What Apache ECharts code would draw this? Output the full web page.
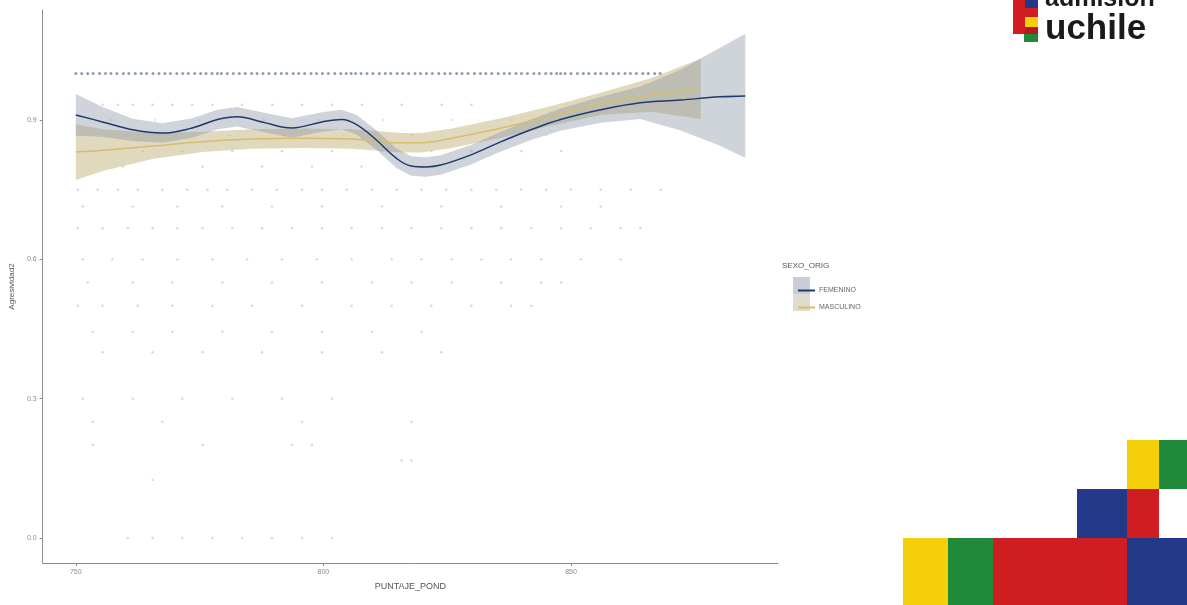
<!DOCTYPE html>
<html><head><meta charset="utf-8">
<script src="https://cdn.jsdelivr.net/npm/echarts@6/dist/echarts.min.js"></script>
<style>html,body{margin:0;padding:0;background:#fff}#c{width:1187px;height:605px}</style>
</head><body><div id="c"></div>
<script>
// ---------- data ----------
const xTicks = [750, 800, 850];
const yTicks = [0.0, 0.3, 0.6, 0.9];

// smoothed curves
const femX  = [750,755.4,761.5,767.5,773.5,778.6,782.6,787.6,793.6,799.7,803.7,806.7,810.7,814.7,817.7,820.7,823.7,829.8,835.8,841.9,847.9,856.0,864.0,872.0,880.0,885.2];
const femY  = [0.911,0.896,0.879,0.872,0.883,0.901,0.907,0.896,0.883,0.896,0.901,0.890,0.857,0.818,0.801,0.799,0.803,0.825,0.853,0.879,0.901,0.922,0.937,0.943,0.950,0.952];
const femLo = [0.866,0.864,0.855,0.851,0.862,0.880,0.886,0.875,0.862,0.875,0.880,0.869,0.836,0.797,0.780,0.778,0.782,0.804,0.832,0.857,0.877,0.894,0.902,0.878,0.845,0.818];
const femHi = [0.956,0.928,0.903,0.893,0.904,0.922,0.928,0.917,0.904,0.917,0.922,0.911,0.878,0.839,0.822,0.820,0.824,0.846,0.874,0.901,0.925,0.950,0.972,1.008,1.055,1.086];

const mascX  = [750,755.4,765.5,775.6,785.6,795.7,805.7,815.8,819.8,825.9,835.9,846.0,856.0,866.1,876.2];
const mascY  = [0.831,0.835,0.844,0.853,0.859,0.861,0.859,0.851,0.851,0.861,0.883,0.909,0.935,0.954,0.967];
const mascLo = [0.771,0.790,0.816,0.831,0.838,0.840,0.838,0.830,0.830,0.840,0.862,0.888,0.911,0.918,0.902];
const mascHi = [0.891,0.880,0.872,0.875,0.880,0.882,0.880,0.872,0.872,0.882,0.904,0.930,0.959,0.990,1.032];

// raw points: one row per observed y-level
const topRowY = 1.0;
const topRowX = [750,751.2,752.4,753.5,754.8,756,757.1,758.3,759.6,760.7,762,763.2,764.3,765.6,766.8,768,769.1,770.4,771.6,772.7,774,775.2,776.3,777.5,778.6,779.4,780.6,781.8,783,784.2,785.5,786.6,787.8,789,790.3,791.5,792.6,793.9,795,796.2,797.5,798.6,799.8,801,802.3,803.5,804.6,805.6,806.5,807.6,808.8,810,811.3,812.5,813.6,814.9,816,817.2,818.5,819.6,820.8,822,823.3,824.5,825.6,826.9,828,829.2,830.5,831.7,832.8,834,835.3,836.5,837.6,838.9,840,841.2,842.5,843.6,844.9,846,847.1,847.9,848.8,850,851.3,852.5,853.6,854.9,856,857.2,858.5,859.6,860.9,862,863.2,864.5,865.6,866.9,868];
const rowLevels = [0.933,0.833,0.8,0.75,0.714,0.667,0.6,0.55,0.5,0.444,0.4,0.3,0.25,0.2,0.167,0.125,0.0];
const rowXs = [
  [755.4,758.5,761.5,765.5,769.5,773.5,777.6,783.6,789.7,795.7,801.7,807.8,815.8,823.9,829.9],
  [753.4,763.5,771.5,781.6,791.6,801.7,811.8,821.8,829.9,840,848],
  [759.5,775.6,787.6,797.7,807.7],
  [750.4,754.4,758.5,762.5,767.5,772.5,776.6,780.6,785.6,790.6,795.7,799.7,804.7,809.8,814.8,819.8,824.8,829.9,834.9,839.9,845,850,856,862.1,868.1],
  [751.4,761.5,770.5,779.6,789.6,799.7,811.8,823.8,835.9,848,856],
  [750.4,755.4,760.5,765.5,770.5,775.6,781.6,787.6,793.7,799.7,805.7,811.8,817.8,823.8,829.9,835.9,842,848,854,860,864],
  [751.4,757.4,763.5,770.5,777.6,784.6,791.6,798.7,805.7,813.8,819.8,825.9,831.9,837.9,844,852,860],
  [752.4,761.5,769.5,779.6,789.6,799.7,809.8,817.8,825.9,835.9,844,848],
  [750.4,755.4,762.5,769.5,777.6,785.6,795.7,805.7,813.8,821.8,829.9,837.9,842],
  [753.4,761.5,769.5,779.6,789.6,799.7,809.8,819.8],
  [755.4,765.5,775.6,787.6,799.7,811.8,823.8],
  [751.4,761.5,771.5,781.6,791.6,801.7],
  [753.4,767.5,795.7,817.8],
  [753.4,775.6,793.7,797.7],
  [815.8,817.8],
  [765.5],
  [760.5,765.5,771.5,777.6,783.6,789.6,795.7,801.7]
];
const mascPointLevels = [0.9, 0.867];
const mascPointXs = [
  [757,766,775,788,799,812,826,838],
  [752,760,770,781,792,804,818,830,845]
];

// ---------- build ----------
const pairs = (xs, ys) => xs.map((x, i) => [x, ys[i]]);
const topRow = topRowX.map(x => [x, topRowY]);
const rowPts = [];
rowLevels.forEach((lv, r) => rowXs[r].forEach(x => rowPts.push([x, lv])));
const mascPts = [];
mascPointLevels.forEach((lv, r) => mascPointXs[r].forEach(x => mascPts.push([x, lv])));

function ribbon(name, xs, lo, hi, fill, op) {
  return {
    type: 'custom', name: name, silent: true, z: 3,
    data: [0],
    renderItem: function (params, api) {
      const pts = [];
      for (let i = 0; i < xs.length; i++) pts.push(api.coord([xs[i], hi[i]]));
      for (let i = xs.length - 1; i >= 0; i--) pts.push(api.coord([xs[i], lo[i]]));
      return { type: 'polygon', shape: { points: pts }, style: { fill: fill, opacity: op } };
    }
  };
}

const FEM_C = '#1f3a6b', MASC_C = '#d6bd6e';
const tickFont = { color: '#8a8a8a', fontSize: 7, fontFamily: 'Liberation Sans' };

const chart = echarts.init(document.getElementById('c'), null, { renderer: 'canvas' });
chart.setOption({
  animation: false,
  backgroundColor: '#ffffff',
  grid: { left: 40, right: 409, top: 10, bottom: 42, containLabel: false },
  xAxis: {
    type: 'value', min: 743.3, max: 891.8,
    name: 'PUNTAJE_POND', nameLocation: 'middle', nameGap: 19,
    nameTextStyle: { color: '#555', fontSize: 9, fontFamily: 'Liberation Sans' },
    axisLine: { show: true, onZero: false, lineStyle: { color: '#8c8c8c', width: 1 } },
    axisTick: { show: true, customValues: xTicks, length: 3, lineStyle: { color: '#8c8c8c' } },
    axisLabel: { customValues: xTicks, margin: 6, formatter: v => String(Math.round(v)), ...tickFont },
    splitLine: { show: false }
  },
  yAxis: {
    type: 'value', min: -0.054, max: 1.137,
    name: 'Agresividad2', nameLocation: 'middle', nameGap: 23, nameRotate: 90,
    nameTextStyle: { color: '#555', fontSize: 8, fontFamily: 'Liberation Sans' },
    axisLine: { show: true, onZero: false, lineStyle: { color: '#8c8c8c', width: 1 } },
    axisTick: { show: true, customValues: yTicks, length: 3, lineStyle: { color: '#8c8c8c' } },
    axisLabel: { customValues: yTicks, margin: 6, formatter: v => v.toFixed(1), ...tickFont },
    splitLine: { show: false }
  },
  legend: {
    orient: 'vertical', left: 793, top: 277, itemGap: 0,
    itemWidth: 17, itemHeight: 2, icon: 'rect',
    textStyle: { color: '#666', fontSize: 7, lineHeight: 17, fontFamily: 'Liberation Sans', padding: [0, 0, 0, -1] },
    data: ['FEMENINO', 'MASCULINO'],
    selectedMode: false
  },
  graphic: [
    { type: 'rect', left: 793, top: 277, shape: { width: 17, height: 17 }, style: { fill: '#c9cdd5' }, z: -1 },
    { type: 'rect', left: 793, top: 294, shape: { width: 17, height: 17 }, style: { fill: '#e0dccd' }, z: -1 },
    { type: 'text', left: 782, top: 262, style: { text: 'SEXO_ORIG', fill: '#555', font: '8px Liberation Sans' } },
    // logo icon
    { type: 'rect', shape: { x: 1013, y: 0, width: 12, height: 34 }, style: { fill: '#cf1d22' } },
    { type: 'rect', shape: { x: 1025, y: 0, width: 13, height: 8 }, style: { fill: '#24388a' } },
    { type: 'rect', shape: { x: 1025, y: 8, width: 13, height: 9 }, style: { fill: '#cf1d22' } },
    { type: 'rect', shape: { x: 1025, y: 17, width: 13, height: 10 }, style: { fill: '#f5cf0a' } },
    { type: 'rect', shape: { x: 1025, y: 27, width: 13, height: 7 }, style: { fill: '#b5191e' } },
    { type: 'rect', shape: { x: 1024, y: 34, width: 14, height: 8 }, style: { fill: '#1e8a3a' } },
    { type: 'text', x: 1045, y: -13, style: { text: 'admision', fill: '#1a1a1a', font: 'bold 25px Liberation Sans' } },
    { type: 'text', x: 1045, y: 12, style: { text: 'uchile', fill: '#1a1a1a', font: 'bold 35px Liberation Sans' } },
    // corner blocks
    { type: 'rect', shape: { x: 1127, y: 440, width: 32, height: 49 }, style: { fill: '#f5cf0a' } },
    { type: 'rect', shape: { x: 1159, y: 440, width: 28, height: 49 }, style: { fill: '#1e8a3a' } },
    { type: 'rect', shape: { x: 1077, y: 489, width: 50, height: 49 }, style: { fill: '#24388a' } },
    { type: 'rect', shape: { x: 1127, y: 489, width: 32, height: 49 }, style: { fill: '#cf1d22' } },
    { type: 'rect', shape: { x: 903, y: 538, width: 45, height: 67 }, style: { fill: '#f5cf0a' } },
    { type: 'rect', shape: { x: 948, y: 538, width: 45, height: 67 }, style: { fill: '#1e8a3a' } },
    { type: 'rect', shape: { x: 993, y: 538, width: 134, height: 67 }, style: { fill: '#cf1d22' } },
    { type: 'rect', shape: { x: 1127, y: 538, width: 60, height: 67 }, style: { fill: '#24388a' } }
  ],
  series: [
    { type: 'scatter', name: 'ptsTop', data: topRow, symbolSize: 3, z: 1, silent: true,
      itemStyle: { color: '#2e4a78', opacity: 0.55 } },
    { type: 'scatter', name: 'pts', data: rowPts, symbolSize: 2.4, z: 1, silent: true,
      itemStyle: { color: '#6f7c94', opacity: 0.3 } },
    { type: 'scatter', name: 'ptsM', data: mascPts, symbolSize: 2.4, z: 1, silent: true,
      itemStyle: { color: '#c9b47a', opacity: 0.35 } },
    ribbon('ribM', mascX, mascLo, mascHi, '#c4b47e', 0.5),
    ribbon('ribF', femX, femLo, femHi, '#8d96a6', 0.42),
    { type: 'line', name: 'MASCULINO', data: pairs(mascX, mascY), smooth: 0.4, showSymbol: false, z: 5,
      lineStyle: { color: MASC_C, width: 1.5 }, itemStyle: { color: MASC_C } },
    { type: 'line', name: 'FEMENINO', data: pairs(femX, femY), smooth: 0.4, showSymbol: false, z: 6,
      lineStyle: { color: FEM_C, width: 1.5 }, itemStyle: { color: FEM_C } }
  ]
});
</script></body></html>
